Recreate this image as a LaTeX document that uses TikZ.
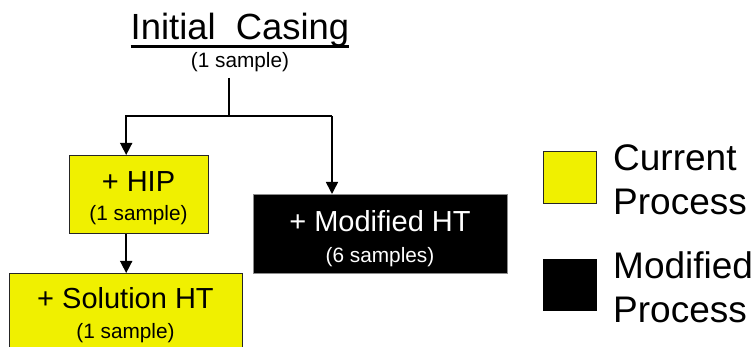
\documentclass[tikz,border=0pt]{standalone}
\usepackage{fontspec}
\setmainfont{Liberation Sans}
\usetikzlibrary{arrows.meta}
\definecolor{procyellow}{RGB}{240,240,0}
\begin{document}
\begin{tikzpicture}[x=1pt,y=-1pt,
  conn/.style={line width=1.6pt, draw=black},
  arrow/.style={conn, -{Triangle[length=12pt,width=12pt]}},
  curbox/.style={draw=black!85, line width=1.4pt, fill=procyellow, inner sep=0pt, anchor=north west},
  modbox/.style={draw=black!45, line width=0.8pt, fill=black, inner sep=0pt, anchor=north west},
  bigtxt/.style={font=\fontsize{29}{29}\selectfont, inner sep=0pt, anchor=base},
  smalltxt/.style={font=\fontsize{20.8}{21}\selectfont, inner sep=0pt, anchor=base},
  legendtxt/.style={font=\fontsize{37}{37}\selectfont, inner sep=0pt, anchor=base west}]

\useasboundingbox (0,0) rectangle (756,347);
\clip (0,0) rectangle (756,347);

% heading
\node[font=\fontsize{36.4}{36}\selectfont, inner sep=0pt, anchor=base] (title) at (240,40) {Initial\ \ Casing};
\draw[line width=2.2pt] ([yshift=-6.5pt]title.base west) -- ([yshift=-6.5pt]title.base east);
\node[smalltxt] (sub) at (240,68) {(1 sample)};

% process boxes
\node[curbox, minimum width=139pt, minimum height=78pt] (hip) at (69,155) {};
\node[bigtxt] (hipA) at (138.5,192) {+ HIP};
\node[smalltxt] (hipB) at (138.5,221) {(1 sample)};

\node[curbox, minimum width=233pt, minimum height=100pt] (sol) at (9,273) {};
\node[bigtxt] (solA) at (125.5,309) {+ Solution HT};
\node[smalltxt] (solB) at (125.5,339) {(1 sample)};

\node[modbox, minimum width=254pt, minimum height=79pt] (mod) at (253,194) {};
\node[bigtxt, text=white] (modA) at (380,232) {+ Modified HT};
\node[smalltxt, text=white] (modB) at (380,263) {(6 samples)};

% connectors
\coordinate (stem) at (229,78);
\coordinate (split) at (229,116);
\coordinate (rjoint) at (332,116);
\draw[conn] (stem) -- (split);
\draw[arrow] (split) -| (sol.north |- hip.north);
\draw[conn] (split) -- (rjoint);
\draw[arrow] (rjoint) -- (rjoint |- mod.north);
\draw[arrow] (sol.north |- hip.south) -- (sol.north);

% legend
\node[curbox, minimum width=53pt, minimum height=52pt] (keycur) at (543,151) {};
\node[legendtxt] (keycurA) at (613,171) {Current};
\node[legendtxt] (keycurB) at (613,215) {Process};
\node[fill=black, inner sep=0pt, anchor=north west, minimum width=54pt, minimum height=52pt] (keymod) at (543,259) {};
\node[legendtxt] (keymodA) at (613,279) {Modified};
\node[legendtxt] (keymodB) at (613,323) {Process};
\end{tikzpicture}
\end{document}
